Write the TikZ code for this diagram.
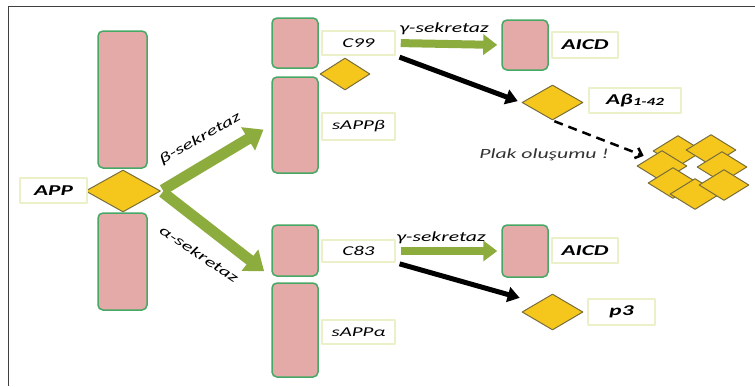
\documentclass[tikz,border=0pt]{standalone}
\usepackage{fontspec}
\setmainfont{Carlito}[FakeStretch=1.55]
\usetikzlibrary{shapes.geometric,arrows.meta,backgrounds}
\definecolor{rosepink}{RGB}{228,170,168}
\definecolor{leafgreen}{RGB}{70,168,100}
\definecolor{oliveshaft}{RGB}{140,172,62}
\definecolor{amber}{RGB}{245,198,28}
\definecolor{amberedge}{RGB}{120,110,60}
\definecolor{paleedge}{RGB}{236,240,200}

\begin{document}
\begin{tikzpicture}[x=1pt, y=-1pt, line join=round,
        pinkbox/.style={shape=rectangle, rounded corners=5pt, fill=rosepink, draw=leafgreen, line width=1.5pt, inner sep=0pt},
        amberdiamond/.style={shape=diamond, fill=amber, draw=amberedge, line width=1pt, inner sep=0pt},
        namebox/.style={shape=rectangle, fill=white, draw=paleedge, line width=1.5pt, inner sep=0pt, font=\fontsize{13.5}{13.5}\selectfont\itshape},
        boldnamebox/.style={namebox, font=\fontsize{15}{15}\selectfont\bfseries\itshape},
        enzymetext/.style={font=\fontsize{14}{14}\selectfont\itshape, inner sep=1pt},
        bigarrow/.style={draw=oliveshaft, line width=11pt, -{Triangle[length=18pt,width=26pt]}},
        smallarrow/.style={draw=oliveshaft, line width=8pt, -{Triangle[length=14pt,width=20pt]}},
        blackarrow/.style={draw=black, line width=5pt, -{Triangle[length=12pt,width=15pt]}}]
        \useasboundingbox (0,0) rectangle (755,386);
        \draw[line width=1.5pt, black!75] (8.5,386) -- (8.5,6.5) -- (755,6.5);
        % APP
        \node[pinkbox, minimum width=49pt, minimum height=137pt] (apptop) at (122.5,99.5) {};
        \node[pinkbox, minimum width=49pt, minimum height=97pt] (appbot) at (122.5,261.5) {};
        \node[amberdiamond, minimum width=75pt, minimum height=42pt] (app) at (123,191) {};
        \node[boldnamebox, minimum width=67pt, minimum height=25pt] (applbl) at (53.5,190.5) {APP};
        % Beta branch
        \node[pinkbox, minimum width=46pt, minimum height=50pt] (c99) at (295,43) {};
        \node[namebox, minimum width=73pt, minimum height=24pt] (c99lbl) at (358.5,43) {C99};
        \node[amberdiamond, minimum width=50pt, minimum height=32pt] (c99tip) at (345,74) {};
        \node[pinkbox, minimum width=46pt, minimum height=96pt] (sappb) at (295,125) {};
        \node[namebox, minimum width=73pt, minimum height=27pt] (sappblbl) at (358.5,126.5) {sAPPβ};
        % Alpha branch
        \node[pinkbox, minimum width=46pt, minimum height=51pt] (c83) at (295,250.5) {};
        \node[namebox, minimum width=73pt, minimum height=22pt] (c83lbl) at (358.5,251) {C83};
        \node[pinkbox, minimum width=46pt, minimum height=94pt] (sappa) at (295,330) {};
        \node[namebox, minimum width=73pt, minimum height=24pt] (sappalbl) at (358.5,332) {sAPPα};
        % Products
        \node[pinkbox, minimum width=46pt, minimum height=50pt] (aicdtop) at (525,45) {};
        \node[boldnamebox, minimum width=66pt, minimum height=26pt] (aicdtoplbl) at (585,45) {AICD};
        \node[amberdiamond, minimum width=61pt, minimum height=35pt] (abeta) at (552.5,102.5) {};
        \node[boldnamebox, minimum width=92pt, minimum height=25pt] (abetalbl) at (635,100.5) {Aβ\raisebox{-1pt}{\fontsize{11}{11}\selectfont 1-42}};
        \node[pinkbox, minimum width=46pt, minimum height=52pt] (aicdbot) at (525,251) {};
        \node[boldnamebox, minimum width=66pt, minimum height=25pt] (aicdbotlbl) at (585,250.5) {AICD};
        \node[amberdiamond, minimum width=61pt, minimum height=36pt] (p3) at (552.5,312) {};
        \node[boldnamebox, minimum width=67pt, minimum height=26pt] (p3lbl) at (621.5,312) {p3};
        % Plaque
        \foreach \px/\py [count=\k] in {678/151, 711/150, 662/166, 722/167, 673/183, 695/194, 724/185} {
          \node[amberdiamond, minimum width=50pt, minimum height=31pt] (pk\k) at (\px,\py) {};
        }
        \node[enzymetext, text=black!80] (plaktext) at (544,155) {Plak oluşumu !};
        % Arrows
        \begin{scope}[on background layer]
        \draw[bigarrow, shorten <=2pt, shorten >=9pt] (app.east) -- (sappb.west);
        \draw[bigarrow, shorten <=2pt, shorten >=9pt] (app.east) -- (c83.south west);
        \draw[smallarrow, shorten <=5pt, shorten >=4pt] (c99lbl.east) -- (aicdtop.west);
        \draw[smallarrow, shorten <=5pt, shorten >=4pt] (c83lbl.east) -- (aicdbot.west);
        \draw[blackarrow, shorten <=4pt, shorten >=4pt] (c99lbl.south east) -- (abeta.west);
        \draw[blackarrow, shorten <=4pt, shorten >=18pt] (c83lbl.south east) -- (p3.north west);
        \draw[line width=2.5pt, dash pattern=on 9pt off 6pt, -{Straight Barb[length=6pt,width=11pt]}, shorten <=2pt, shorten >=6pt] (abeta.south) -- (pk3.north west);
        \end{scope}
        % Enzyme labels
        \node[enzymetext, rotate=29.5] (betatext) at (200,139) {β-sekretaz};
        \node[enzymetext, rotate=-33.7] (alphatext) at (199,254) {α-sekretaz};
        \node[enzymetext] (gammatop) at (444,29) {γ-sekretaz};
        \node[enzymetext] (gammabot) at (441,238) {γ-sekretaz};
\end{tikzpicture}
\end{document}
